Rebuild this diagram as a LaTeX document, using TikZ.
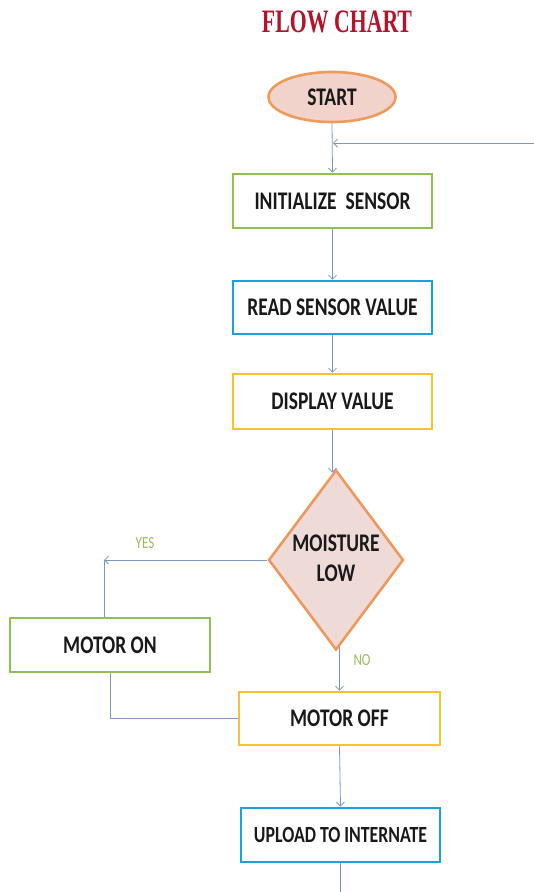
\documentclass[tikz,border=0pt]{standalone}
\usepackage{fontspec}
\usepackage{graphicx}
\usetikzlibrary{shapes.geometric,arrows.meta}
\newfontfamily\boxfont{Carlito}
\newfontfamily\titlefont{Liberation Serif}
\definecolor{cgreen}{HTML}{92C050}
\definecolor{cblue}{HTML}{1CA1DA}
\definecolor{cyellow}{HTML}{F8C12D}
\definecolor{cpink}{HTML}{F2D3CB}
\definecolor{corange}{HTML}{EE9A5C}
\definecolor{cdpink}{HTML}{EEDAD6}
\definecolor{cline}{HTML}{7A96C4}
\definecolor{ctitle}{HTML}{B3132B}
\definecolor{clabel}{HTML}{9BBB59}
\newcommand\tallt[1]{\scalebox{1}[1.3]{#1}}
\tikzset{
  procbox/.style={draw=#1, line width=2.6pt, fill=white, rectangle, minimum width=199pt, minimum height=54pt, inner sep=0pt,
     font=\boxfont\bfseries\fontsize{19.5}{24.6}\selectfont, text=black!90},
  conn/.style={draw=cline, line width=0.8pt},
  arr/.style={conn, -{Straight Barb[length=4pt,width=8pt]}},
  lbl/.style={text=clabel, font=\boxfont\fontsize{13}{16}\selectfont}
}
\begin{document}
\begin{tikzpicture}[x=1pt,y=-1pt]
\useasboundingbox (0,0) rectangle (534,892);
\node[font=\titlefont\bfseries\fontsize{21.8}{26}\selectfont, text=ctitle] (title) at (337,22) {\scalebox{1}[1.5]{FLOW CHART}};
\node[ellipse, draw=corange, fill=cpink, line width=2.6pt, minimum width=127pt, minimum height=50pt, inner sep=0pt,
      font=\boxfont\bfseries\fontsize{19.5}{24.6}\selectfont, text=black!90] (start) at (332,97) {\tallt{START}};
\node[procbox=cgreen] (init) at (332.5,201) {\tallt{INITIALIZE\ \ SENSOR}};
\node[procbox=cblue, minimum height=53pt] (read) at (332.5,307.5) {\tallt{READ SENSOR\ VALUE}};
\node[procbox=cyellow, minimum height=55pt] (disp) at (332.5,401.5) {\tallt{DISPLAY VALUE}};
\node[diamond, draw=corange, fill=cdpink, line width=2.6pt, minimum width=135pt, minimum height=180pt, inner sep=0pt, aspect=0.75,
      font=\boxfont\bfseries\fontsize{19.5}{24.6}\selectfont, text=black!90] (dec) at (336,560)
      {\scalebox{1}[1.3]{\begin{tabular}{@{}c@{}}MOISTURE\\[-1pt]LOW\end{tabular}}};
\node[procbox=cgreen, minimum width=200pt] (moton) at (110,645) {\tallt{MOTOR ON}};
\node[procbox=cyellow, minimum width=201pt, minimum height=53pt] (motoff) at (339.5,718.5) {\tallt{MOTOR OFF}};
\node[procbox=cblue, font=\boxfont\bfseries\fontsize{17.8}{22}\selectfont] (upload) at (340.5,835) {\tallt{UPLOAD TO INTERNATE}};
\node[lbl] (yes) at (145,543) {\tallt{YES}};
\node[lbl] (no) at (362,660) {\tallt{NO}};
\coordinate (loopr) at (534,143);
\coordinate (loopin) at (333,143);
\coordinate (yesc) at (dec.west -| 104,0);
\coordinate (endc) at (340.5,892);
\draw[arr] (start.south) -- (init.north);
\draw[arr] (loopr) -- (loopin);
\draw[arr] (init.south) -- (read.north);
\draw[arr] (read.south) -- (disp.north);
\draw[arr] (disp.south) -- ([yshift=-4pt]disp.south |- dec.north);
\draw[arr] (dec.west) -- (yesc);
\draw[conn] (yesc) -- (yesc |- moton.north);
\draw[arr] ([yshift=4pt]dec.south -| motoff.north) -- (motoff.north);
\draw[conn] (moton.south) -- (moton.south |- motoff.west) -- (motoff.west);
\draw[arr] (motoff.south) -- (upload.north);
\draw[conn] (upload.south) -- (endc);
\end{tikzpicture}
\end{document}
